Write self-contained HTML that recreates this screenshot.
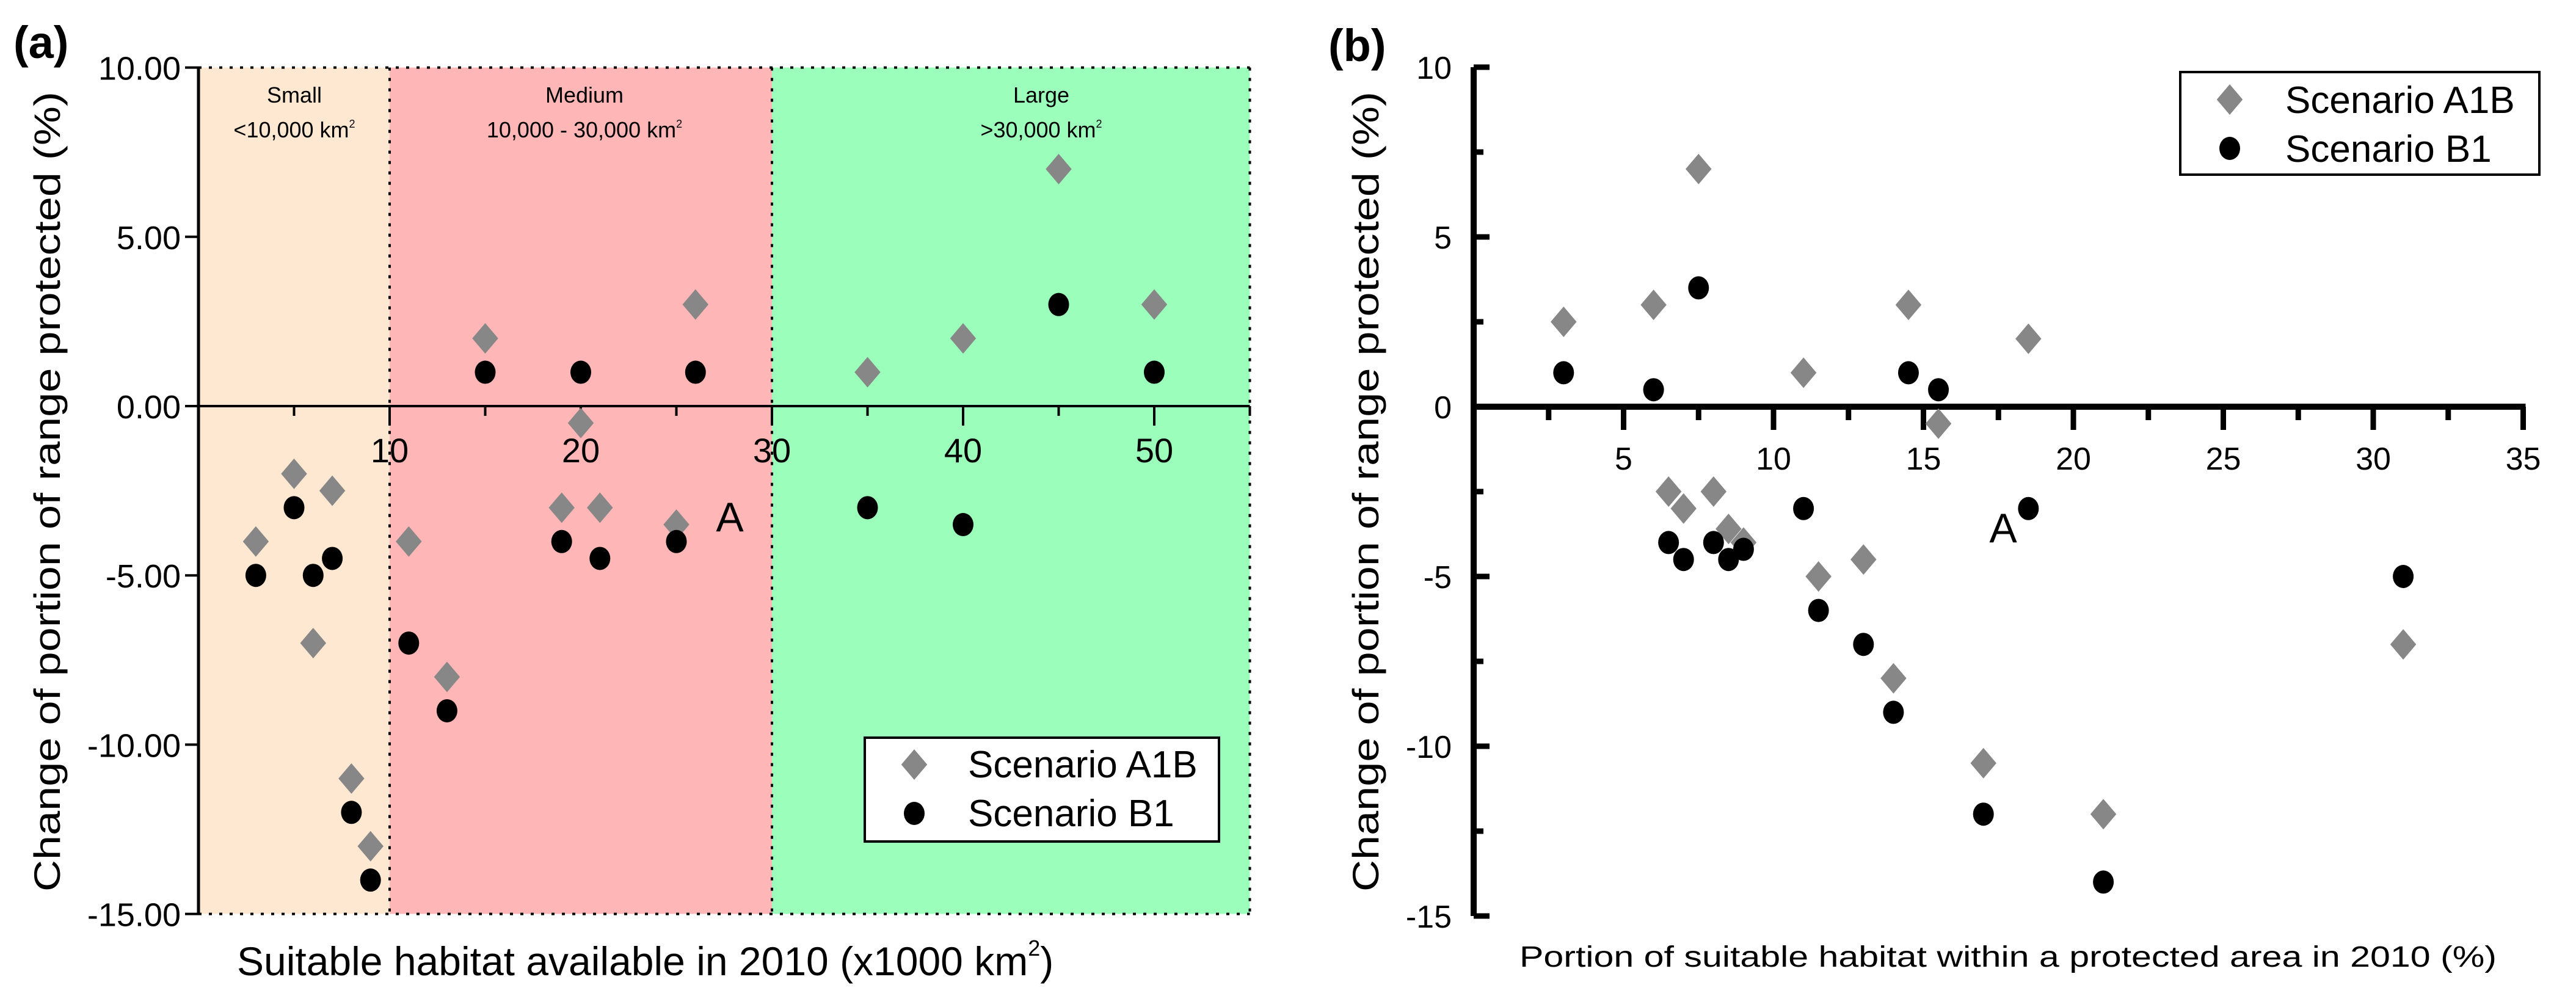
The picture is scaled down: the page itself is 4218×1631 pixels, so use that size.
<!DOCTYPE html>
<html><head><meta charset="utf-8"><style>
html,body{margin:0;padding:0;background:#fff}
svg{display:block}
text{font-family:"Liberation Sans",Arial,sans-serif;fill:#000}
</style></head><body>
<svg id="fig" width="4218" height="1631" viewBox="0 0 4218 1631" xmlns="http://www.w3.org/2000/svg">
<g id="pa"></g>
<g id="pb"></g>
</svg>
<script>
// Panel A data
const aX_A1B = [3,5,6,7,8,9,11,13,15,19,20,21,25,26,35,40,45,50];
const aY_A1B = [-4,-2,-7,-2.5,-11,-13,-4,-8,2,-3,-0.5,-3,-3.5,3,1,2,7,3];
const aX_B1 = [3,5,6,7,8,9,11,13,15,19,20,21,25,26,35,40,45,50];
const aY_B1 = [-5,-3,-5,-4.5,-12,-14,-7,-9,1,-4,1,-4.5,-4,1,-3,-3.5,3,1];
const aYTicks = [10,5,0,-5,-10,-15];
const aYTickLabels = ["10.00","5.00","0.00","-5.00","-10.00","-15.00"];
const aXTickLabels = [10,20,30,40,50];
// Panel B data
const bX_A1B = [3,6,7.5,6.5,7,8,8.5,9,11,11.5,13,14,14.5,15.5,17,18.5,21,31];
const bY_A1B = [2.5,3,7,-2.5,-3,-2.5,-3.6,-4,1,-5,-4.5,-8,3,-0.5,-10.5,2,-12,-7];
const bX_B1 = [3,6,7.5,6.5,7,8,8.5,9,11,11.5,13,14,14.5,15.5,17,18.5,21,31];
const bY_B1 = [1,0.5,3.5,-4,-4.5,-4,-4.5,-4.2,-3,-6,-7,-9,1,0.5,-12,-3,-14,-5];
const bYTickLabels = [10,5,0,-5,-10,-15];
const bXTickLabels = [5,10,15,20,25,30,35];

const NS="http://www.w3.org/2000/svg";
function mk(parent,tag,attrs,txt){const e=document.createElementNS(NS,tag);for(const k in attrs)e.setAttribute(k,attrs[k]);if(txt!==undefined)e.textContent=txt;parent.appendChild(e);return e;}

// ---------- Panel A ----------
const pa=document.getElementById('pa');
const ax=v=>325+v*31.3, ay=v=>665-v*55.44;
const regions=[[0,10,'#FEE8D1','small-region'],[10,30,'#FFB6B6','medium-region'],[30,55,'#9BFFBB','large-region']];
regions.forEach(r=>{
  const e=mk(pa,'rect',{x:ax(r[0]),y:ay(10),width:ax(r[1])-ax(r[0]),height:ay(-15)-ay(10),fill:r[2]});
  
  
});
[[ax(0),ay(10),ax(55),ay(10)],[ax(55),ay(10),ax(55),ay(-15)],[ax(0),ay(-15),ax(55),ay(-15)],[ax(10),ay(10),ax(10),ay(-15)],[ax(30),ay(10),ax(30),ay(-15)]].forEach(l=>{
  const e=mk(pa,'line',{x1:l[0],y1:l[1],x2:l[2],y2:l[3],stroke:'#000','stroke-width':4,'stroke-dasharray':'5 12'});
  
  
});
let e;
e=mk(pa,'line',{x1:ax(0),y1:ay(10),x2:ax(0),y2:ay(-15),stroke:'#000','stroke-width':5});


e=mk(pa,'line',{x1:ax(0),y1:ay(0),x2:ax(55),y2:ay(0),stroke:'#000','stroke-width':4});


for(let v=5;v<=55;v+=5){
  const major=v%10===0;
  e=mk(pa,'line',{x1:ax(v),y1:ay(0),x2:ax(v),y2:ay(0)+(major?32:16),stroke:'#000','stroke-width':4});
  
  
}
aXTickLabels.forEach(v=>{
  e=mk(pa,'text',{x:ax(v),y:757,'font-size':56,'text-anchor':'middle'},String(v));
  
  
});
aYTicks.forEach((v,i)=>{
  e=mk(pa,'line',{x1:ax(0)-22,y1:ay(v),x2:ax(0),y2:ay(v),stroke:'#000','stroke-width':4});
  
  
  e=mk(pa,'text',{x:296,y:ay(v)+20,'font-size':54,'text-anchor':'end'},aYTickLabels[i]);
  
  
});
[['Small','<10,000 km',482,'small-label'],['Medium','10,000 - 30,000 km',957,'medium-label'],['Large','>30,000 km',1705,'large-label']].forEach(r=>{
  e=mk(pa,'text',{x:r[2],y:168,'font-size':36,'text-anchor':'middle'},r[0]);
  
  
  const t=mk(pa,'text',{x:r[2],y:225,'font-size':36,'text-anchor':'middle'},r[1]);
  mk(t,'tspan',{'font-size':18,dy:-16},'2');
  
  
});
function diamond(g,cx,cy,s){return mk(g,'polygon',{points:`${cx},${cy-s} ${cx+s*0.85},${cy} ${cx},${cy+s} ${cx-s*0.85},${cy}`,fill:'#878787'});}
function dot(g,cx,cy){return mk(g,'ellipse',{cx:cx,cy:cy,rx:17,ry:19,fill:'#000'});}
aX_A1B.forEach((x,i)=>{
  e=diamond(pa,ax(x),ay(aY_A1B[i]),25);
  
  
});
aX_B1.forEach((x,i)=>{
  e=dot(pa,ax(x),ay(aY_B1[i]));
  
  
});
e=mk(pa,'text',{x:1195,y:870,'font-size':68,'text-anchor':'middle'},'A');


e=mk(pa,'rect',{x:1416,y:1208,width:580,height:170,fill:'#fff',stroke:'#000','stroke-width':4});


e=diamond(pa,1497,1252,25);


e=dot(pa,1497,1332);


e=mk(pa,'text',{x:1585,y:1273,'font-size':62},'Scenario A1B');


e=mk(pa,'text',{x:1585,y:1353,'font-size':62},'Scenario B1');


e=mk(pa,'text',{x:0,y:0,'font-size':60,'text-anchor':'middle',transform:'translate(98,805) rotate(-90)',textLength:1310,lengthAdjust:'spacingAndGlyphs'},'Change of portion of range protected (%)');


const xt=mk(pa,'text',{x:388,y:1597,'font-size':66},'Suitable habitat available in 2010 (x1000 km');
mk(xt,'tspan',{'font-size':36,dy:-32},'2');
mk(xt,'tspan',{'font-size':66,dy:32},')');


e=mk(pa,'text',{x:22,y:95,'font-size':74,'font-weight':'bold'},'(a)');



// ---------- Panel B ----------
const pb=document.getElementById('pb');
const bx=v=>2413+v*49.1, by=v=>666-v*55.6;
e=mk(pb,'line',{x1:bx(0),y1:by(10),x2:bx(0),y2:by(-15),stroke:'#000','stroke-width':10});


e=mk(pb,'line',{x1:bx(0),y1:by(0),x2:bx(35)+4,y2:by(0),stroke:'#000','stroke-width':10});


for(let v=2.5;v<=35;v+=2.5){
  const major=v%5===0;
  e=mk(pb,'line',{x1:bx(v),y1:by(0),x2:bx(v),y2:by(0)+(major?38:22),stroke:'#000','stroke-width':9});
  
  
}
for(let v=10;v>=-15;v-=2.5){
  const major=v%5===0;
  e=mk(pb,'line',{x1:bx(0),y1:by(v),x2:bx(0)+(major?26:16),y2:by(v),stroke:'#000','stroke-width':9});
  
  
}
bXTickLabels.forEach(v=>{
  e=mk(pb,'text',{x:bx(v),y:769,'font-size':52,'text-anchor':'middle'},String(v));
  
  
});
bYTickLabels.forEach(v=>{
  e=mk(pb,'text',{x:2377,y:by(v)+19,'font-size':52,'text-anchor':'end'},String(v));
  
  
});
bX_A1B.forEach((x,i)=>{
  e=diamond(pb,bx(x),by(bY_A1B[i]),25);
  
  
});
bX_B1.forEach((x,i)=>{
  e=dot(pb,bx(x),by(bY_B1[i]));
  
  
});
e=mk(pb,'text',{x:3280,y:888,'font-size':68,'text-anchor':'middle'},'A');


e=mk(pb,'rect',{x:3570,y:118,width:588,height:168,fill:'#fff',stroke:'#000','stroke-width':4});


e=diamond(pb,3651,163,25);


e=dot(pb,3651,243);


e=mk(pb,'text',{x:3742,y:185,'font-size':62},'Scenario A1B');


e=mk(pb,'text',{x:3742,y:265,'font-size':62},'Scenario B1');


e=mk(pb,'text',{x:0,y:0,'font-size':60,'text-anchor':'middle',transform:'translate(2257,805) rotate(-90)',textLength:1310,lengthAdjust:'spacingAndGlyphs'},'Change of portion of range protected (%)');


e=mk(pb,'text',{x:2488,y:1583,'font-size':48,textLength:1600,lengthAdjust:'spacingAndGlyphs'},'Portion of suitable habitat within a protected area in 2010 (%)');


e=mk(pb,'text',{x:2175,y:100,'font-size':74,'font-weight':'bold'},'(b)');


</script>
</body></html>
